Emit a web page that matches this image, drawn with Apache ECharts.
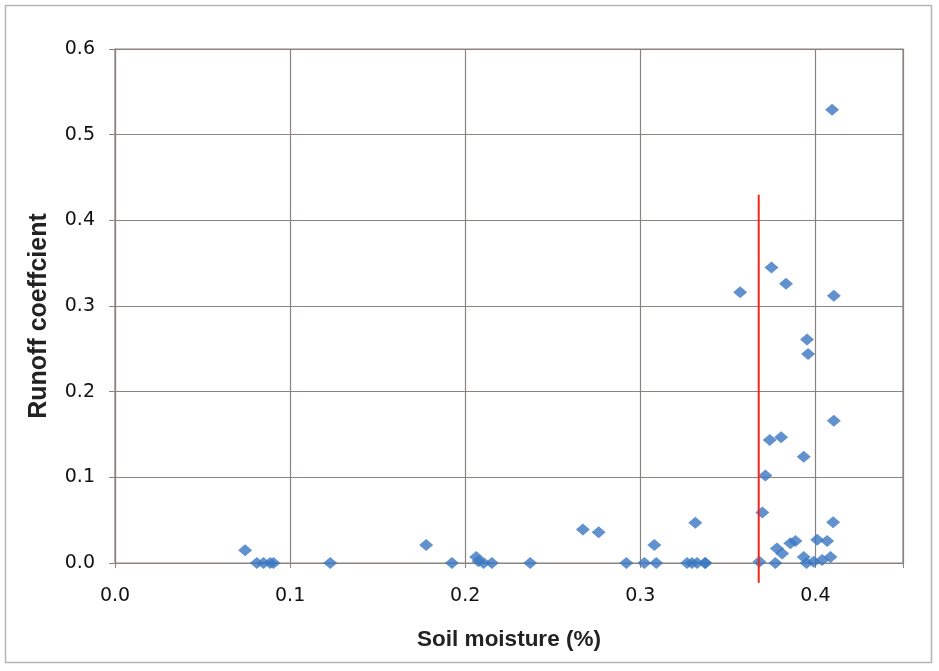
<!DOCTYPE html>
<html><head><meta charset="utf-8">
<script src="https://cdn.jsdelivr.net/npm/echarts@6/dist/echarts.min.js"></script>
<style>html,body{margin:0;padding:0;background:#fff}#c{width:939px;height:671px}</style>
</head><body><div id="c"></div>
<script>
const soilMoisture = [0.0743,0.081,0.0848,0.0886,0.0905,0.1229,0.1777,0.1924,0.2063,0.2076,0.2105,0.2152,0.2371,0.2672,0.2762,0.292,0.3023,0.308,0.3091,0.3267,0.3295,0.3314,0.3324,0.3371,0.337,0.357,0.368,0.3697,0.3714,0.3739,0.3749,0.3771,0.378,0.381,0.3804,0.3832,0.3857,0.3886,0.3933,0.3933,0.3949,0.3952,0.3958,0.399,0.401,0.4038,0.4067,0.4086,0.4095,0.4101,0.4105,0.4105];
const runoffCoef = [0.015,0,0,0,0,0,0.021,0,0.007,0.002,0,0,0,0.039,0.036,0,0,0.021,0,0,0,0.047,0,0,0,0.316,0.0015,0.059,0.102,0.1436,0.345,0,0.017,0.011,0.1467,0.326,0.023,0.0257,0.124,0.007,0,0.261,0.244,0.0015,0.027,0.0035,0.0257,0.007,0.529,0.0475,0.312,0.166];
const thresholdX = [0.3676,0.3676];
const thresholdY = [0.43,-0.023];
const xTicks = ['0.0','0.1','0.2','0.3','0.4'];
const yTicks = ['0.0','0.1','0.2','0.3','0.4','0.5','0.6'];
const xTitle = 'Soil moisture (%)';
const yTitle = 'Runoff coeffcient';

const chart = echarts.init(document.getElementById('c'));
const gridCol = '#8a8380';
const tickFont = 'DejaVu Sans';
chart.setOption({
  animation:false,
  graphic:[
    {type:'rect',shape:{x:5.5,y:5.5,width:926,height:657},style:{fill:'none',stroke:'#b5b5b5',lineWidth:1.5}},
    {type:'text',x:39,y:316,rotation:Math.PI/2,
      style:{text:yTitle,fontFamily:'Liberation Sans',fontWeight:'bold',fontSize:25,fill:'#222',align:'center',verticalAlign:'middle'}}
  ],
  grid:{left:115,top:49,width:788,height:514,show:true,borderColor:gridCol,borderWidth:1.2,backgroundColor:'transparent'},
  xAxis:{type:'value',min:0,max:0.45,interval:0.1,
    name:xTitle,nameLocation:'middle',nameGap:65,
    nameTextStyle:{fontFamily:'Liberation Sans',fontWeight:'bold',fontSize:22.5,color:'#222'},
    axisLine:{show:true,lineStyle:{color:gridCol,width:1.2}},
    axisTick:{show:true,length:5,lineStyle:{color:gridCol}},
    axisLabel:{fontFamily:tickFont,fontSize:19,color:'#111',margin:24,
      formatter:v=>{const k=Math.round(v*10);return Math.abs(v*10-k)<1e-6 && xTicks[k]!==undefined ? xTicks[k] : '';}},
    splitLine:{show:true,lineStyle:{color:gridCol,width:1.2}}},
  yAxis:{type:'value',min:0,max:0.6,interval:0.1,
    axisLine:{show:true,lineStyle:{color:gridCol,width:1.2}},
    axisTick:{show:true,length:6,lineStyle:{color:gridCol}},
    axisLabel:{fontFamily:tickFont,fontSize:19,color:'#111',margin:20,
      formatter:v=>yTicks[Math.round(v*10)]},
    splitLine:{show:true,lineStyle:{color:gridCol,width:1.2}}},
  series:[
    {type:'scatter',symbol:'diamond',symbolSize:[14,12],
      itemStyle:{color:'#3a77c2'},
      data:soilMoisture.map((x,i)=>[x,runoffCoef[i]])},
    {type:'line',clip:false,symbol:'none',silent:true,
      lineStyle:{color:'#f0261b',width:2},
      data:thresholdX.map((x,i)=>[x,thresholdY[i]])}
  ]
});
</script></body></html>
